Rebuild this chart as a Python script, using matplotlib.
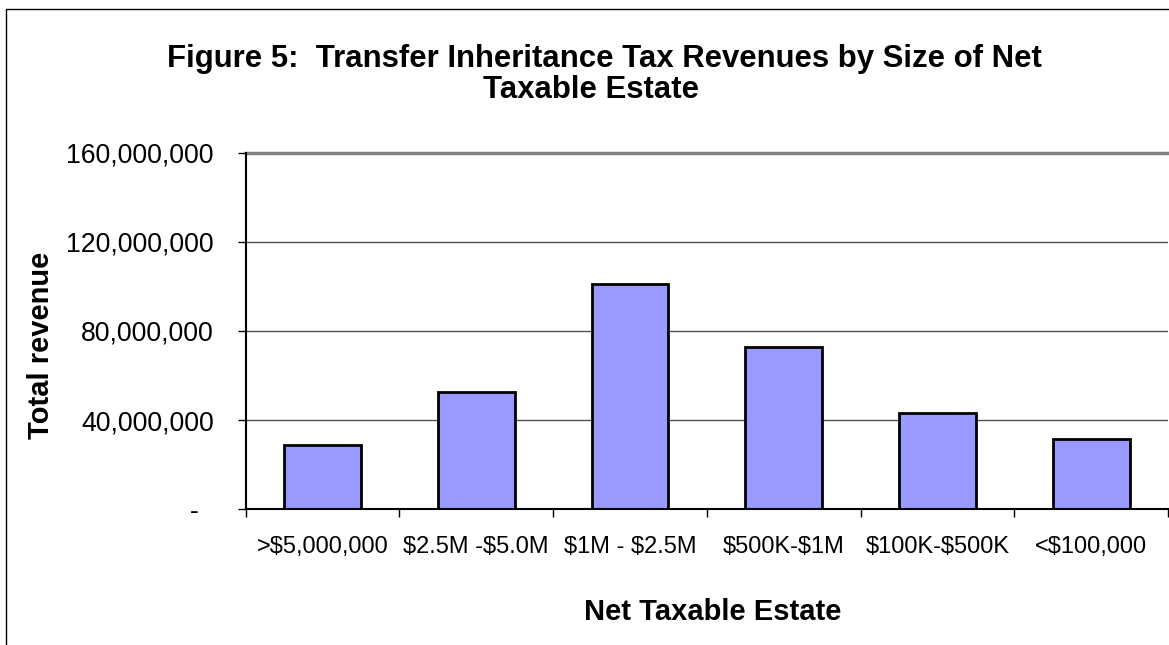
import matplotlib
matplotlib.use("Agg")
import matplotlib.pyplot as plt
from matplotlib.patches import Rectangle
from matplotlib.ticker import FixedLocator, FuncFormatter
from matplotlib.transforms import ScaledTranslation

plt.rcParams['font.family'] = ['Liberation Sans', 'DejaVu Sans']

# Revenue by size of net taxable estate
categories = [">$5,000,000", "$2.5M -$5.0M", "$1M - $2.5M",
              "$500K-$1M", "$100K-$500K", "<$100,000"]
revenue = [28.8e6, 52.7e6, 101.1e6, 72.6e6, 43.4e6, 31.5e6]
y_ticks = [0, 40e6, 80e6, 120e6, 160e6]

title_lines = ["Figure 5:  Transfer Inheritance Tax Revenues by Size of Net",
               "Taxable Estate"]
x_title = "Net Taxable Estate"
y_title = "Total revenue"

W, H = 1169, 645
fig = plt.figure(figsize=(W / 100, H / 100), dpi=100)


def fx(px):
    return px / W


def fy(py):
    return 1 - py / H


# chart frame
fig.patches.append(Rectangle((fx(6), fy(H + 20)), fx(W + 20), fy(9) - fy(H + 20),
                             transform=fig.transFigure, fill=False,
                             edgecolor='black', linewidth=1.0))

left, right, top, bottom = 245.7, 1168, 152.7, 509.3
ax = fig.add_axes([fx(left), fy(bottom), fx(right - left), fy(top) - fy(bottom)])

x = list(range(len(categories)))
ax.bar(x, revenue, width=0.5, color='#9999FF', edgecolor='black',
       linewidth=2.0, zorder=3)

ax.set_xlim(-0.5, len(categories) - 0.5)
ax.set_ylim(0, 160e6)

# horizontal gridlines
for v in y_ticks[1:-1]:
    ax.axhline(v, color='#505050', linewidth=1.0, zorder=1)
ax.axhline(y_ticks[-1], color='#808080', linewidth=2.5, zorder=1, clip_on=False)

for s in ['top', 'right']:
    ax.spines[s].set_visible(False)
ax.spines['left'].set_linewidth(1.5)
ax.spines['bottom'].set_linewidth(1.5)
ax.spines['left'].set_zorder(4)
ax.spines['bottom'].set_zorder(4)

ax.yaxis.set_major_locator(FixedLocator(y_ticks))
ax.yaxis.set_major_formatter(FuncFormatter(
    lambda v, p: "-" if v == 0 else f"{v:,.0f}"))
ax.tick_params(axis='y', direction='out', length=6, width=1, pad=17,
               labelsize=19.2, colors='black')

# category boundaries carry the x ticks, labels sit under the bars
ax.set_xticks([i - 0.5 for i in range(len(categories) + 1)])
ax.set_xticklabels([])
ax.set_xticks(x, minor=True)
ax.set_xticklabels([c.replace('$', r'\$') for c in categories], minor=True)
ax.tick_params(axis='x', which='major', direction='out', length=6, width=1)
ax.tick_params(axis='x', which='minor', length=0, pad=19, labelsize=17)

fig.canvas.draw()
zero_label = ax.get_yticklabels()[0]
zero_label.set_transform(zero_label.get_transform() +
                         ScaledTranslation(-0.15, 0, fig.dpi_scale_trans))

fig.text(fx(167), fy(67), title_lines[0], ha='left', va='baseline',
         fontsize=22.4, fontweight='bold')
fig.text(fx(483), fy(98), title_lines[1], ha='left', va='baseline',
         fontsize=22.4, fontweight='bold')
fig.text(fx(713), fy(620), x_title, ha='center', va='baseline', fontsize=21,
         fontweight='bold')
fig.text(fx(41), fy(345), y_title, ha='center', va='center', rotation=90,
         fontsize=21, fontweight='bold')

fig.savefig("out.png", dpi=100)
